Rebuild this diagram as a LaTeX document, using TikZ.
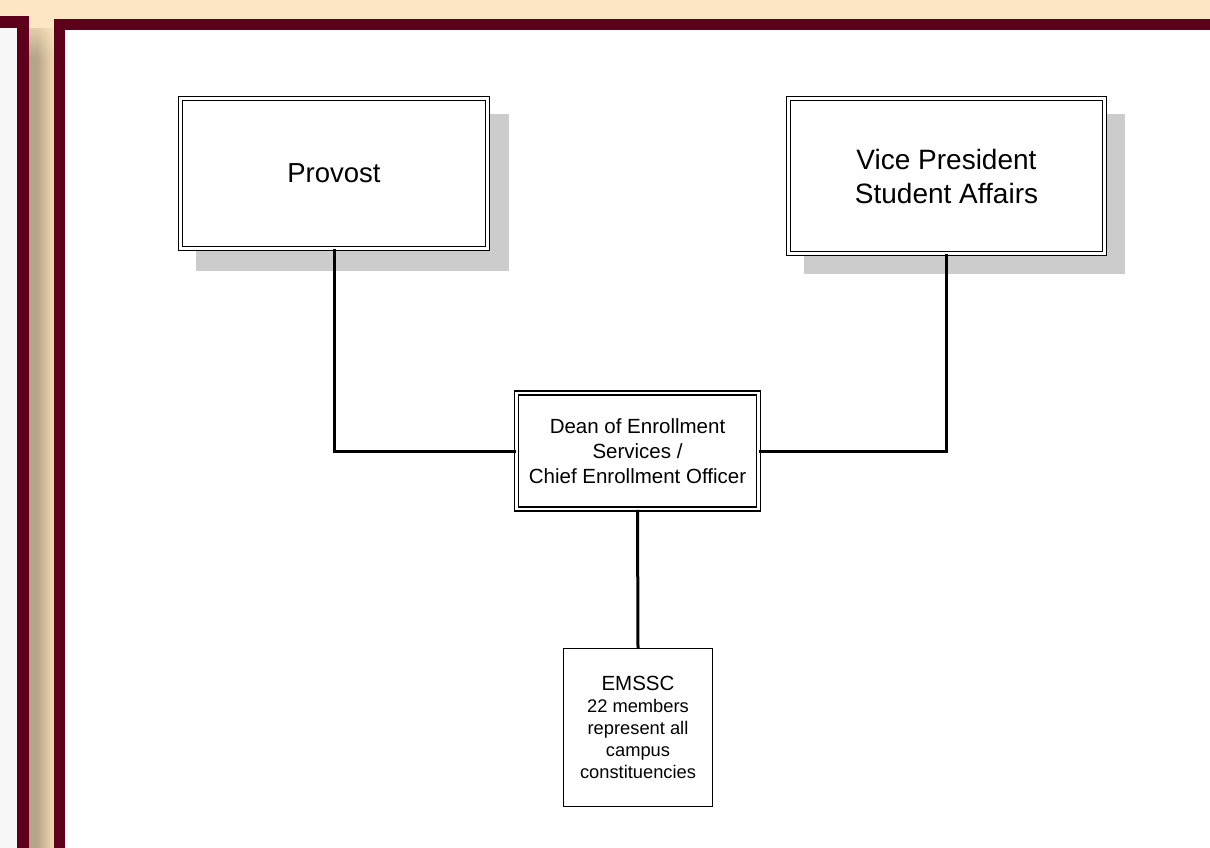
\documentclass[tikz,border=0pt]{standalone}
\usepackage{fontspec}
\setmainfont{Liberation Sans}
\usetikzlibrary{fadings}
\definecolor{peach}{RGB}{253,230,196}
\definecolor{maroon}{RGB}{94,0,28}
\definecolor{panelgray}{RGB}{247,247,247}
\definecolor{bandL}{RGB}{182,164,136}
\definecolor{bandR}{RGB}{240,214,174}
\definecolor{shadowgray}{RGB}{204,204,204}
\tikzfading[name=fadedown, top color=transparent!0, bottom color=transparent!100]
\pgfdeclarelayer{bgzero}
\pgfdeclarelayer{bgone}
\pgfsetlayers{bgzero,bgone,main}
\tikzset{
  dbox/.style={draw=black, line width=1.5pt, double=white, double distance=2.2pt,
    fill=white, inner sep=0pt, align=center},
  sbox/.style={draw=black, line width=1.4pt, fill=white, inner sep=0pt, align=center},
  conn/.style={draw=black, line width=3pt},
  shadowfill/.style={fill=shadowgray},
}
\begin{document}
\begin{tikzpicture}[x=1pt,y=-1pt]
\useasboundingbox (0,0) rectangle (1210,848);
\begin{pgfonlayer}{bgzero}
% background
\fill[peach] (0,0) rectangle (1210,848);
% left panel
\fill[maroon] (0,16) rectangle (29,848);
\fill[panelgray] (0,28) rectangle (17,848);
% gradient band (stripes)
\foreach \i in {0,...,24} {
  \pgfmathsetmacro\p{max(0,(\i-8)/16*100)}
  \fill[bandR!\p!bandL] (29+\i,28) rectangle (30.3+\i,848);
}
\fill[peach, path fading=fadedown] (29,10) rectangle (54,58);
% right panel
\fill[maroon] (54,19) rectangle (1210,848);
\fill[white] (65,30) rectangle (1210,848);
\end{pgfonlayer}

% nodes
\node[dbox, minimum width=307pt, minimum height=150pt,
  font=\fontsize{27.5}{33}\selectfont] (prov) at (334,173.5) {Provost};
\node[dbox, minimum width=316pt, minimum height=155pt,
  font=\fontsize{28}{34}\selectfont] (vp) at (946.5,176) {Vice President\\Student Affairs};
\node[dbox, minimum width=242pt, minimum height=116pt,
  font=\fontsize{20.5}{25}\selectfont] (dean) at (637.5,451) {Dean of Enrollment\\Services /\\Chief Enrollment Officer};
\node[sbox, minimum width=149pt, minimum height=158pt,
  font=\fontsize{18.3}{22}\selectfont] (ems) at (638,727.5)
  {{\fontsize{20.5}{22}\selectfont EMSSC}\\22 members\\represent all\\campus\\constituencies};

% shadows
\begin{pgfonlayer}{bgone}
\fill[shadowfill] ([shift={(16,16)}]prov.north west) rectangle ([shift={(21,22)}]prov.south east);
\fill[shadowfill] ([shift={(16,16)}]vp.north west) rectangle ([shift={(20,20)}]vp.south east);
\end{pgfonlayer}

% connectors
\draw[conn] (prov.south) |- (dean.west);
\draw[conn] (vp.south) |- (dean.east);
\draw[conn] (dean.south) -- (ems.north);
\end{tikzpicture}
\end{document}
